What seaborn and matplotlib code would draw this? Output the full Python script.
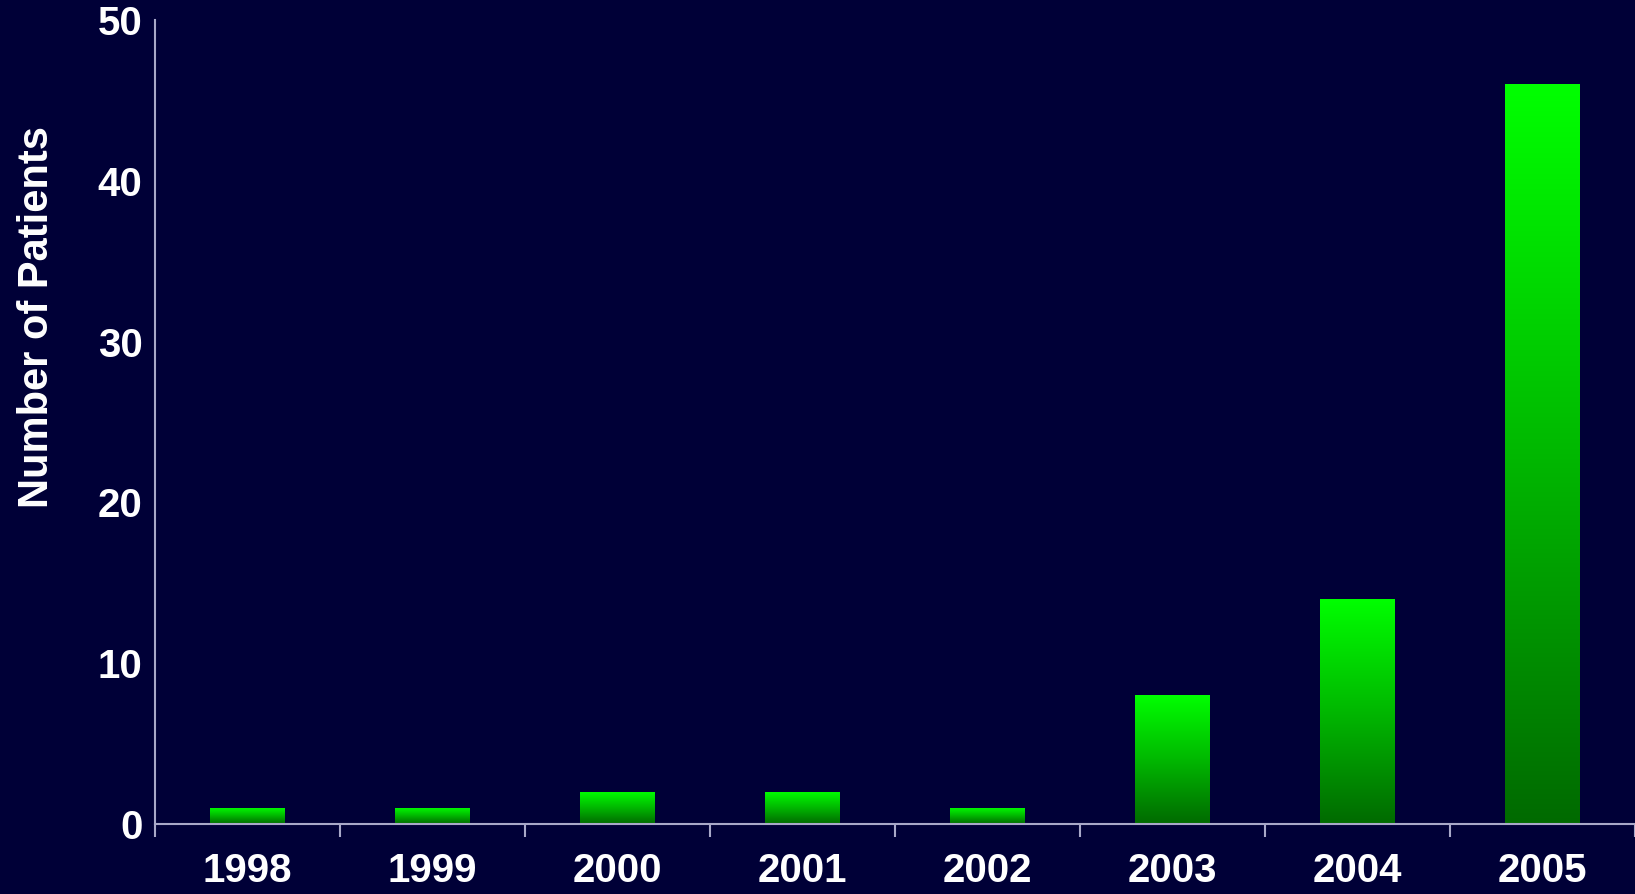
import numpy as np
import pandas as pd
import matplotlib
matplotlib.use("Agg")
import matplotlib.pyplot as plt
import seaborn as sns
from matplotlib.colors import LinearSegmentedColormap

years = ["1998", "1999", "2000", "2001", "2002", "2003", "2004", "2005"]
patients = [1, 1, 2, 2, 1, 8, 14, 46]

bg = "#000037"
sns.set_theme(style="dark")
plt.rcParams["font.family"] = ["Liberation Sans", "DejaVu Sans"]
plt.rcParams["font.weight"] = "bold"

df = pd.DataFrame({"year": years, "patients": patients})

fig = plt.figure(figsize=(16.35, 8.94), dpi=100, facecolor=bg)
ax = fig.add_axes([0.0948, 0.0783, 0.9052, 0.8993])
ax.set_facecolor(bg)

sns.barplot(data=df, x="year", y="patients", ax=ax, width=0.4,
            color="#00ff00", saturation=1, linewidth=0)

# Vertical green gradient inside each bar, bright at the top, dark at the base
cmap = LinearSegmentedColormap.from_list("grn", ["#006a00", "#00b800", "#00ff00"])
grad = np.linspace(0, 1, 256).reshape(-1, 1)
for p in ax.patches:
    x0, y0 = p.get_x(), p.get_y()
    w, h = p.get_width(), p.get_height()
    im = ax.imshow(grad, cmap=cmap, aspect="auto", origin="lower",
                   extent=[x0, x0 + w, y0, y0 + h], zorder=p.get_zorder() + 0.1)
    im.set_clip_path(p)

ax.set_xlim(-0.5, 7.5)
ax.set_ylim(0, 50)
ax.set_yticks([0, 10, 20, 30, 40, 50])
ax.set_xticks(np.arange(-0.5, 8.0, 1.0), minor=True)
ax.grid(False)

spine_col = "#a8a8c8"
for side in ["top", "right"]:
    ax.spines[side].set_visible(False)
for side in ["left", "bottom"]:
    ax.spines[side].set_visible(True)
    ax.spines[side].set_color(spine_col)
    ax.spines[side].set_linewidth(1.5)

ax.tick_params(axis="x", which="major", length=0, pad=20, labelsize=29,
               labelcolor="white")
ax.tick_params(axis="x", which="minor", length=9, width=1.5, color=spine_col,
               direction="out", bottom=True)
ax.tick_params(axis="y", length=0, pad=9, labelsize=29, labelcolor="white")
for lbl in ax.get_xticklabels() + ax.get_yticklabels():
    lbl.set_fontweight("bold")

ax.set_xlabel("")
ax.set_ylabel("Number of Patients", color="white", fontsize=30,
              fontweight="bold")
ax.yaxis.set_label_coords(-0.0665, 0.63)

fig.savefig("out.png", dpi=100, facecolor=bg)
